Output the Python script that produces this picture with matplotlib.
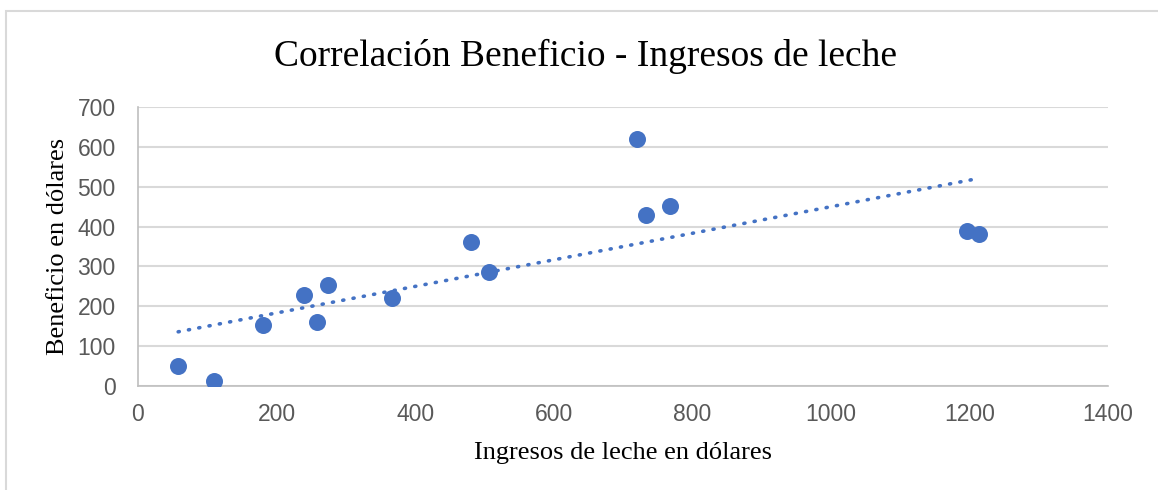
import matplotlib
matplotlib.use("Agg")
import matplotlib.pyplot as plt
from matplotlib.patches import Rectangle
import numpy as np

# Data
ingresos = [58, 109, 180, 240, 259, 274, 366, 480, 507, 720, 733, 768, 1197, 1214]
beneficio = [51, 12, 153, 228, 161, 253, 222, 362, 287, 619, 429, 452, 389, 382]
x_ticks = [0, 200, 400, 600, 800, 1000, 1200, 1400]
y_ticks = [0, 100, 200, 300, 400, 500, 600, 700]
title = "Correlación Beneficio - Ingresos de leche"
xlabel = "Ingresos de leche en dólares"
ylabel = "Beneficio en dólares"

W, H = 1158, 490
fig = plt.figure(figsize=(W / 100, H / 100), dpi=100)
fig.patch.set_facecolor("white")

# Outer chart-area border
fig.patches.append(Rectangle((6 / W, -0.05), 1.2, 1 - 11 / H + 0.05,
                             transform=fig.transFigure, fill=False,
                             edgecolor="#D9D9D9", linewidth=1.5, zorder=0))

ax = fig.add_axes([138 / W, 1 - 386 / H, (1108 - 138) / W, (386 - 107) / H])

blue = "#4472C4"
grid_c = "#D9D9D9"
tick_c = "#595959"

ax.set_xlim(0, 1400)
ax.set_ylim(0, 700)
ax.set_xticks(x_ticks)
ax.set_yticks(y_ticks)
ax.grid(axis="y", color=grid_c, linewidth=1.5)
ax.set_axisbelow(True)
for s in ["top", "right"]:
    ax.spines[s].set_visible(False)
for s in ["left", "bottom"]:
    ax.spines[s].set_color("#BFBFBF")
    ax.spines[s].set_linewidth(1.2)
ax.tick_params(axis="x", length=0, colors=tick_c, labelsize=16.5, pad=12)
ax.tick_params(axis="y", length=0, colors=tick_c, labelsize=16.5, pad=16)
for lab in ax.get_xticklabels() + ax.get_yticklabels():
    lab.set_fontfamily("Liberation Sans")

# Trend line (linear regression)
xa = np.array(ingresos, dtype=float)
ya = np.array(beneficio, dtype=float)
m, b = np.polyfit(xa, ya, 1)
xt = np.array([xa.min(), xa.max()])
ax.plot(xt, m * xt + b, color=blue, linewidth=2.6, linestyle=(0, (0.3, 2.6)),
        dash_capstyle="round", zorder=2)

ax.scatter(ingresos, beneficio, s=150, color=blue, zorder=3, linewidths=0)

ax.set_xlabel(xlabel, fontfamily="Liberation Serif", fontsize=19, labelpad=12)
ax.set_ylabel(ylabel, fontfamily="Liberation Serif", fontsize=19, labelpad=6)

fig.text(585 / W, 1 - 56 / H, title, ha="center", va="center",
         fontfamily="Liberation Serif", fontsize=27)

fig.savefig("out.png", dpi=100)
